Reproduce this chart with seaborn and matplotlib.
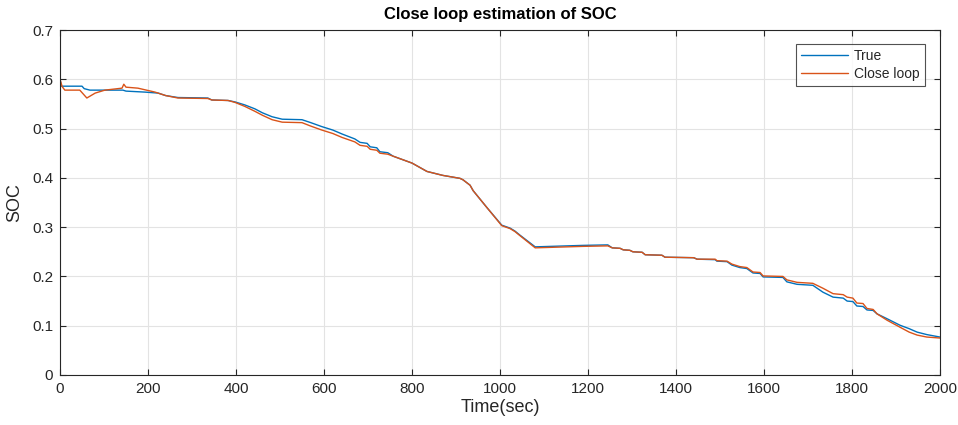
import matplotlib
matplotlib.use("Agg")
import matplotlib.pyplot as plt
import seaborn as sns
import pandas as pd

# ---- data ----
t_true = [0, 3, 50, 55, 68, 143, 150, 193, 223, 240, 268, 336, 345, 382, 398, 420,
          443, 460, 482, 505, 550, 570, 595, 620, 641, 670, 682, 698, 705, 720, 727,
          745, 757, 800, 834, 870, 909, 916, 932, 939, 970, 1004, 1023, 1034, 1045,
          1080, 1189, 1245, 1255, 1273, 1280, 1295, 1302, 1323, 1330, 1368, 1375,
          1440, 1448, 1489, 1493, 1516, 1527, 1545, 1561, 1575, 1591, 1598, 1643,
          1652, 1675, 1711, 1734, 1757, 1780, 1789, 1802, 1811, 1825, 1834, 1848,
          1857, 1880, 1909, 1930, 1948, 1970, 2000]
soc_true = [0.600, 0.586, 0.586, 0.581, 0.578, 0.578, 0.576, 0.574, 0.572, 0.567,
            0.563, 0.562, 0.558, 0.557, 0.554, 0.548, 0.540, 0.532, 0.524, 0.519,
            0.518, 0.512, 0.504, 0.497, 0.489, 0.479, 0.472, 0.470, 0.463, 0.461,
            0.453, 0.451, 0.444, 0.430, 0.413, 0.405, 0.399, 0.396, 0.385, 0.374,
            0.340, 0.304, 0.298, 0.292, 0.284, 0.260, 0.263, 0.264, 0.258, 0.257,
            0.254, 0.253, 0.250, 0.249, 0.244, 0.243, 0.239, 0.238, 0.235, 0.234,
            0.231, 0.230, 0.223, 0.218, 0.216, 0.207, 0.206, 0.199, 0.198, 0.189,
            0.184, 0.182, 0.168, 0.158, 0.156, 0.150, 0.149, 0.140, 0.139, 0.132,
            0.131, 0.124, 0.114, 0.101, 0.094, 0.087, 0.082, 0.077]

t_close = [0, 5, 11, 45, 61, 80, 102, 141, 145, 150, 177, 216, 240, 268, 336, 345, 382,
           398, 420, 443, 460, 482, 505, 550, 570, 595, 620, 641, 670, 682, 698, 705,
           720, 727, 745, 757, 800, 834, 870, 909, 916, 932, 939, 970, 1004, 1023,
           1034, 1045, 1080, 1189, 1245, 1255, 1273, 1280, 1295, 1302, 1323, 1330,
           1368, 1375, 1440, 1448, 1489, 1493, 1516, 1527, 1545, 1561, 1575, 1591,
           1598, 1643, 1652, 1675, 1711, 1734, 1757, 1780, 1789, 1802, 1811, 1825,
           1834, 1848, 1857, 1880, 1909, 1930, 1948, 1970, 2000]
soc_close = [0.600, 0.585, 0.578, 0.578, 0.562, 0.572, 0.578, 0.582, 0.590, 0.584, 0.582,
             0.574, 0.567, 0.562, 0.561, 0.558, 0.557, 0.553, 0.545, 0.535, 0.527,
             0.518, 0.513, 0.512, 0.505, 0.497, 0.490, 0.482, 0.473, 0.466, 0.464,
             0.458, 0.456, 0.450, 0.448, 0.444, 0.430, 0.413, 0.405, 0.399, 0.396,
             0.385, 0.374, 0.340, 0.303, 0.297, 0.291, 0.283, 0.258, 0.261, 0.262,
             0.258, 0.257, 0.254, 0.253, 0.250, 0.249, 0.244, 0.243, 0.239, 0.238,
             0.235, 0.235, 0.232, 0.231, 0.225, 0.220, 0.218, 0.209, 0.208, 0.201,
             0.200, 0.193, 0.188, 0.186, 0.176, 0.165, 0.163, 0.158, 0.156, 0.146,
             0.145, 0.135, 0.133, 0.124, 0.111, 0.097, 0.087, 0.081, 0.077, 0.075]

series_names = ["True", "Close loop"]
x_ticks = [0, 200, 400, 600, 800, 1000, 1200, 1400, 1600, 1800, 2000]
y_ticks = [0, 0.1, 0.2, 0.3, 0.4, 0.5, 0.6, 0.7]

df = pd.concat([
    pd.DataFrame({"t": t_true, "soc": soc_true, "series": series_names[0]}),
    pd.DataFrame({"t": t_close, "soc": soc_close, "series": series_names[1]}),
], ignore_index=True)

sns.set_theme(style="whitegrid")
plt.rcParams["font.family"] = ["Liberation Sans", "DejaVu Sans"]

fig = plt.figure(figsize=(9.58, 4.25), dpi=100)
ax = fig.add_axes([60 / 958, 50 / 425, 880 / 958, 345 / 425])

sns.lineplot(data=df, x="t", y="soc", hue="series", hue_order=series_names,
             palette=["#0072BD", "#D95319"], estimator=None, sort=False,
             linewidth=1.0, ax=ax)

ax.set_xlim(0, 2000)
ax.set_ylim(0, 0.7)
ax.set_xticks(x_ticks)
ax.set_yticks(y_ticks)
ax.set_yticklabels(["0", "0.1", "0.2", "0.3", "0.4", "0.5", "0.6", "0.7"])
ax.grid(True, color="#e3e3e3", linewidth=0.8)
ax.set_facecolor("white")
for s in ax.spines.values():
    s.set_color("#262626")
    s.set_linewidth(0.8)
ax.tick_params(direction="in", length=4, width=0.8, colors="#262626",
               labelsize=11, top=True, right=True, bottom=True, left=True,
               labelcolor="#262626", pad=5)

ax.set_xlabel("Time(sec)", fontsize=13, color="#262626", labelpad=2)
ax.set_ylabel("SOC", fontsize=13, color="#262626", labelpad=6)
ax.set_title("Close loop estimation of SOC", fontsize=12, fontweight="bold",
             color="black", pad=8)

leg = ax.legend(loc="upper right", bbox_to_anchor=(0.983, 0.96), borderaxespad=0,
                frameon=True, fancybox=False, fontsize=10, handlelength=3.4,
                borderpad=0.4, labelspacing=0.25, handletextpad=0.4)
leg.get_frame().set_edgecolor("#262626")
leg.get_frame().set_linewidth(0.8)
leg.set_title(None)

fig.savefig("out.png", dpi=100)
